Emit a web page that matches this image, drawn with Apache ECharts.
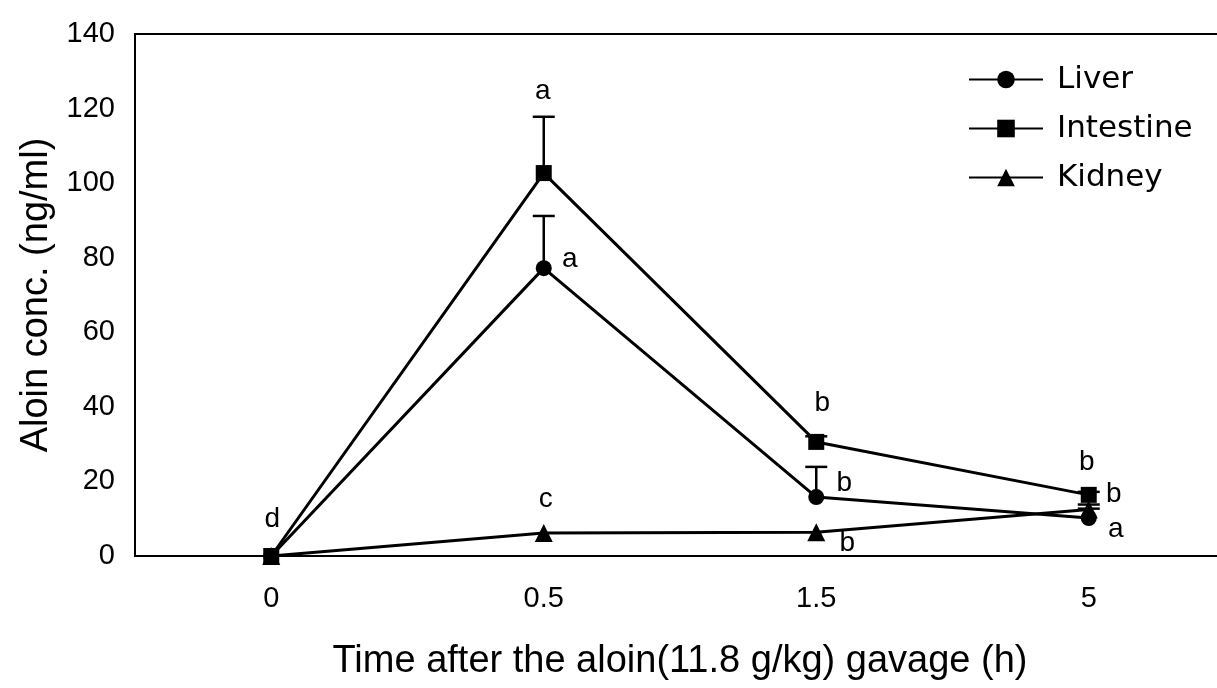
<!DOCTYPE html>
<html>
<head>
<meta charset="utf-8">
<script src="https://cdn.jsdelivr.net/npm/echarts@6/dist/echarts.min.js"></script>
<style>
html,body{margin:0;padding:0;background:#fff;}
#chart{width:1217px;height:688px;}
</style>
</head>
<body>
<div id="chart"></div>
<script>
// ---- data ----
const categories = ['0', '0.5', '1.5', '5'];
const liverMean = [0, 77.2, 15.8, 10.2];
const liverSD = [0, 14, 8.1, 2.5];
const intestineMean = [0, 102.7, 30.6, 16.4];
const intestineSD = [0, 15.1, 1.5, 0.8];
const kidneyMean = [0, 6.2, 6.4, 12.5];
const kidneySD = [0, 0, 0, 1.3];
const liverSig = ['', 'a', 'b', 'a'];
const intestineSig = ['d', 'a', 'b', 'b'];
const kidneySig = ['', 'c', 'b', 'b'];
const yMin = 0, yMax = 140, yStep = 20;

// ---- styling (label placement in pixels) ----
const liverOffsets = [[0, 0], [26, -9], [28, -14], [27, 11]];
const intestineOffsets = [[1, -37], [-1, -82], [6, -39], [-2, -33]];
const kidneyOffsets = [[0, 0], [2, -34], [31, 11], [25, -15]];

const FONT = 'Liberation Sans, Arial, sans-serif';

function withLabels(means, letters, offsets) {
  return means.map((v, i) => ({
    value: v,
    label: {
      show: !!letters[i],
      formatter: letters[i],
      position: 'inside',
      offset: offsets[i],
      color: '#000',
      fontSize: 28,
      fontFamily: FONT
    }
  }));
}

function errData(means, sds) {
  return means.map((m, i) => [i, m, sds[i]]);
}

function renderErr(params, api) {
  const x = api.value(0), m = api.value(1), s = api.value(2);
  if (!(s > 0)) return null;
  const p0 = api.coord([x, m]);
  const p1 = api.coord([x, m + s]);
  const st = { stroke: '#000', lineWidth: 2.5 };
  return {
    type: 'group',
    children: [
      { type: 'line', shape: { x1: p0[0], y1: p0[1], x2: p1[0], y2: p1[1] }, style: st },
      { type: 'line', shape: { x1: p1[0] - 11, y1: p1[1], x2: p1[0] + 11, y2: p1[1] }, style: st }
    ]
  };
}

function lineSeries(name, symbol, size, means, letters, offsets) {
  return {
    name: name,
    type: 'line',
    symbol: symbol,
    symbolSize: size,
    data: withLabels(means, letters, offsets),
    lineStyle: { color: '#000', width: 3 },
    itemStyle: { color: '#000' },
    z: 3
  };
}

const chart = echarts.init(document.getElementById('chart'), null, { renderer: 'canvas' });
chart.setOption({
  backgroundColor: '#fff',
  animation: false,
  grid: { left: 135, top: 34, width: 1090, height: 522, show: true, borderColor: '#000', borderWidth: 2, backgroundColor: 'transparent', outerBoundsMode: 'none', containLabel: false },
  legend: {
    data: ['Liver', 'Intestine', 'Kidney'],
    orient: 'vertical',
    left: 968,
    top: 64,
    padding: 0,
    itemWidth: 74,
    itemHeight: 22,
    itemGap: 18,
    textStyle: { color: '#000', fontSize: 31, fontFamily: 'DejaVu Sans, sans-serif', lineHeight: 30, padding: [0, 0, 0, 9] }
  },
  xAxis: {
    type: 'category',
    data: categories,
    boundaryGap: true,
    axisLine: { show: true, lineStyle: { color: '#000', width: 2 } },
    axisTick: { show: false },
    axisLabel: { color: '#000', fontSize: 29, fontFamily: FONT, margin: 28 },
    name: 'Time after the aloin(11.8 g/kg) gavage (h)',
    nameLocation: 'middle',
    nameGap: 87,
    nameTextStyle: { color: '#000', fontSize: 38, fontFamily: FONT }
  },
  yAxis: {
    type: 'value',
    min: yMin,
    max: yMax,
    interval: yStep,
    axisLine: { show: true, lineStyle: { color: '#000', width: 2 } },
    axisTick: { show: false },
    splitLine: { show: false },
    axisLabel: { color: '#000', fontSize: 29, fontFamily: FONT, margin: 20 },
    name: 'Aloin conc. (ng/ml)',
    nameLocation: 'middle',
    nameGap: 76,
    nameTextStyle: { color: '#000', fontSize: 38, fontFamily: FONT }
  },
  series: [
    lineSeries('Liver', 'circle', 16, liverMean, liverSig, liverOffsets),
    lineSeries('Intestine', 'rect', 16, intestineMean, intestineSig, intestineOffsets),
    lineSeries('Kidney', 'triangle', 18, kidneyMean, kidneySig, kidneyOffsets),
    { type: 'custom', name: 'errLiver', renderItem: renderErr, data: errData(liverMean, liverSD), z: 4, silent: true },
    { type: 'custom', name: 'errIntestine', renderItem: renderErr, data: errData(intestineMean, intestineSD), z: 4, silent: true },
    { type: 'custom', name: 'errKidney', renderItem: renderErr, data: errData(kidneyMean, kidneySD), z: 4, silent: true }
  ]
});
</script>
</body>
</html>
